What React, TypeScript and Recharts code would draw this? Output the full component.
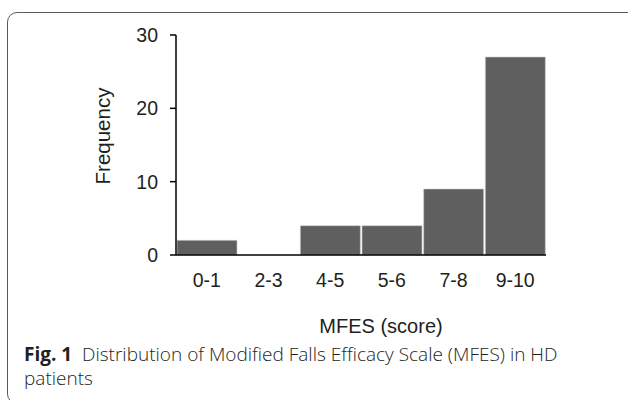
import React from "react";
import { BarChart, Bar, XAxis, YAxis } from "recharts";

const categories = ["0-1", "2-3", "4-5", "5-6", "7-8", "9-10"];
const frequencies = [2, 0, 4, 4, 9, 27];
const yTicks = [0, 10, 20, 30];

const data = categories.map((score, i) => ({ score, frequency: frequencies[i] }));

const axisFont = "Arial, 'Liberation Sans', sans-serif";
const textColor = "#231f20";

const App: React.FC = () => {
  return (
    <div
      style={{
        position: "fixed",
        left: 0,
        top: 0,
        width: 628,
        height: 400,
        background: "#fff",
        overflow: "hidden",
      }}
    >
      {/* rounded frame, clipped on the right and bottom */}
      <div
        style={{
          position: "absolute",
          left: 7,
          top: 12,
          width: 650,
          height: 392,
          border: "1.5px solid #5a5a5a",
          borderRadius: 10,
          boxSizing: "border-box",
        }}
      />

      <div style={{ position: "absolute", left: 0, top: 0 }}>
        <BarChart
          width={628}
          height={400}
          data={data}
          margin={{ top: 35, right: 82, bottom: 115, left: 116 }}
          barCategoryGap={1}
        >
          <XAxis
            dataKey="score"
            tickLine={false}
            tickSize={0}
            tickMargin={18}
            axisLine={{ stroke: "#000", strokeWidth: 1.5 }}
            tick={{ fill: textColor, fontSize: 19.5, fontFamily: axisFont }}
            interval={0}
          />
          <YAxis
            width={60}
            domain={[0, 30]}
            ticks={yTicks}
            tickSize={6}
            tickMargin={12}
            axisLine={{ stroke: "#000", strokeWidth: 1.5 }}
            tickLine={{ stroke: "#000", strokeWidth: 1.5 }}
            tick={{ fill: textColor, fontSize: 19.5, fontFamily: axisFont }}
          />
          <Bar
            dataKey="frequency"
            fill="#5f5f5f"
            stroke="#cfcfcf"
            strokeWidth={0.6}
            isAnimationActive={false}
          />
        </BarChart>
      </div>

      {/* y axis title */}
      <div
        style={{
          position: "absolute",
          left: 103,
          top: 136,
          transform: "translate(-50%, -50%) rotate(-90deg)",
          fontFamily: axisFont,
          fontSize: 20.5,
          color: textColor,
          whiteSpace: "nowrap",
        }}
      >
        Frequency
      </div>

      {/* x axis title */}
      <div
        style={{
          position: "absolute",
          left: 381,
          top: 326,
          transform: "translate(-50%, -50%)",
          fontFamily: axisFont,
          fontSize: 20,
          color: textColor,
          whiteSpace: "nowrap",
        }}
      >
        MFES (score)
      </div>

      {/* caption */}
      <div
        style={{
          position: "absolute",
          left: 24,
          top: 342,
          fontFamily: "'Open Sans', 'Noto Sans', sans-serif",
          fontSize: 19,
          lineHeight: "24px",
          color: textColor,
          width: 600,
          whiteSpace: "nowrap",
        }}
      >
        <span style={{ fontWeight: 700 }}>Fig. 1</span>
        <span style={{ fontWeight: 300 }}>{"\u00a0\u00a0"}Distribution of Modified Falls Efficacy Scale (MFES) in HD</span>
        <br />
        <span style={{ fontWeight: 300 }}>patients</span>
      </div>
    </div>
  );
};

export default App;
